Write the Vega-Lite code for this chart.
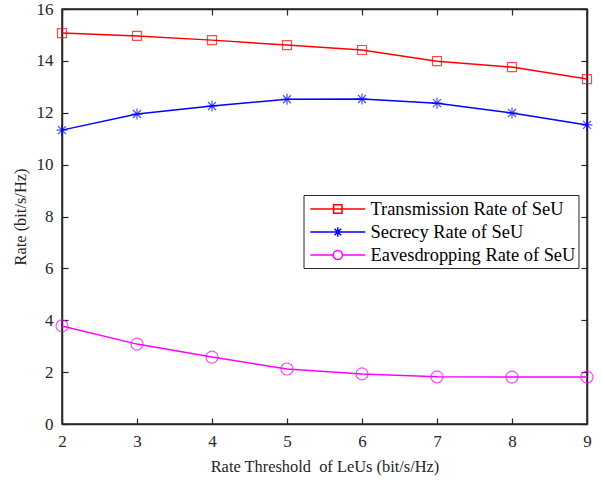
{
  "$schema": "https://vega.github.io/schema/vega-lite/v6.json",
  "width": 525,
  "height": 415,
  "autosize": {"type": "none"},
  "padding": {"left": 62, "top": 9, "right": 15, "bottom": 56},
  "background": "white",
  "config": {
    "font": "Liberation Serif",
    "view": {"stroke": "#262626", "strokeWidth": 1.5},
    "axis": {
      "grid": false,
      "domainColor": "#262626",
      "domainWidth": 1.5,
      "tickColor": "#262626",
      "tickWidth": 1.2,
      "labelColor": "#262626",
      "titleColor": "#262626",
      "labelFont": "Liberation Serif",
      "titleFont": "Liberation Serif",
      "labelFontSize": 17,
      "titleFontSize": 16.4,
      "titleFontWeight": "normal",
      "labelFlush": false,
      "labelOverlap": false,
      "tickSize": -6
    },
    "legend": {
      "labelFont": "Liberation Serif",
      "labelFontSize": 18.4,
      "labelColor": "#000000",
      "labelLimit": 400,
      "strokeColor": "#262626",
      "fillColor": "white",
      "padding": 3,
      "rowPadding": 2,
      "symbolSize": 400,
      "symbolStrokeWidth": 1.5,
      "symbolOpacity": 1,
      "labelOffset": 42
    }
  },
  "data": {
    "values": [
      {"threshold": 2, "series": "Transmission Rate of SeU", "rate": 15.07},
      {"threshold": 3, "series": "Transmission Rate of SeU", "rate": 14.96},
      {"threshold": 4, "series": "Transmission Rate of SeU", "rate": 14.8},
      {"threshold": 5, "series": "Transmission Rate of SeU", "rate": 14.61},
      {"threshold": 6, "series": "Transmission Rate of SeU", "rate": 14.42},
      {"threshold": 7, "series": "Transmission Rate of SeU", "rate": 13.99},
      {"threshold": 8, "series": "Transmission Rate of SeU", "rate": 13.76},
      {"threshold": 9, "series": "Transmission Rate of SeU", "rate": 13.3},
      {"threshold": 2, "series": "Secrecy Rate of SeU", "rate": 11.33},
      {"threshold": 3, "series": "Secrecy Rate of SeU", "rate": 11.95},
      {"threshold": 4, "series": "Secrecy Rate of SeU", "rate": 12.26},
      {"threshold": 5, "series": "Secrecy Rate of SeU", "rate": 12.52},
      {"threshold": 6, "series": "Secrecy Rate of SeU", "rate": 12.53},
      {"threshold": 7, "series": "Secrecy Rate of SeU", "rate": 12.37},
      {"threshold": 8, "series": "Secrecy Rate of SeU", "rate": 11.99},
      {"threshold": 9, "series": "Secrecy Rate of SeU", "rate": 11.53},
      {"threshold": 2, "series": "Eavesdropping Rate of SeU", "rate": 3.78},
      {"threshold": 3, "series": "Eavesdropping Rate of SeU", "rate": 3.08},
      {"threshold": 4, "series": "Eavesdropping Rate of SeU", "rate": 2.58},
      {"threshold": 5, "series": "Eavesdropping Rate of SeU", "rate": 2.12},
      {"threshold": 6, "series": "Eavesdropping Rate of SeU", "rate": 1.93},
      {"threshold": 7, "series": "Eavesdropping Rate of SeU", "rate": 1.82},
      {"threshold": 8, "series": "Eavesdropping Rate of SeU", "rate": 1.81},
      {"threshold": 9, "series": "Eavesdropping Rate of SeU", "rate": 1.81}
    ]
  },
  "layer": [
    {
      "mark": {"type": "line", "strokeWidth": 1.5},
      "encoding": {
        "x": {
          "field": "threshold", "type": "quantitative",
          "scale": {"domain": [2, 9], "nice": false, "zero": false},
          "axis": {"values": [2, 3, 4, 5, 6, 7, 8, 9], "title": "Rate Threshold\u00a0 of LeUs (bit/s/Hz)", "labelPadding": 15, "titlePadding": 9}
        },
        "y": {
          "field": "rate", "type": "quantitative",
          "scale": {"domain": [0, 16], "nice": false},
          "axis": {"values": [0, 2, 4, 6, 8, 10, 12, 14, 16], "title": "Rate (bit/s/Hz)", "labelPadding": 15, "titlePadding": 8}
        },
        "color": {
          "field": "series", "type": "nominal",
          "scale": {
            "domain": ["Transmission Rate of SeU", "Secrecy Rate of SeU", "Eavesdropping Rate of SeU"],
            "range": ["#ff0000", "#0000ff", "#ff00ff"]
          },
          "legend": {"title": null, "orient": "none", "legendX": 241.5, "legendY": 186}
        }
      }
    },
    {
      "transform": [{"filter": "datum.series === 'Transmission Rate of SeU'"}],
      "mark": {"type": "point", "filled": false, "size": 400, "strokeWidth": 1.2, "shape": "M-0.45,-0.45H0.45V0.45H-0.45Z"},
      "encoding": {
        "x": {
          "field": "threshold", "type": "quantitative",
          "axis": {"orient": "top", "values": [2, 3, 4, 5, 6, 7, 8, 9], "labels": false, "title": null}
        },
        "y": {
          "field": "rate", "type": "quantitative",
          "axis": {"orient": "right", "values": [0, 2, 4, 6, 8, 10, 12, 14, 16], "labels": false, "title": null}
        },
        "color": {"field": "series", "type": "nominal"}
      }
    },
    {
      "transform": [{"filter": "datum.series === 'Secrecy Rate of SeU'"}],
      "mark": {"type": "point", "filled": false, "size": 400, "strokeWidth": 1.2, "shape": "M-0.55,0H0.55M0,-0.55V0.55M-0.4,-0.4L0.4,0.4M-0.4,0.4L0.4,-0.4"},
      "encoding": {
        "x": {"field": "threshold", "type": "quantitative", "axis": null},
        "y": {"field": "rate", "type": "quantitative", "axis": null},
        "color": {"field": "series", "type": "nominal"}
      }
    },
    {
      "transform": [{"filter": "datum.series === 'Eavesdropping Rate of SeU'"}],
      "mark": {"type": "point", "filled": false, "size": 400, "strokeWidth": 1.2, "shape": "M0.6,0A0.6,0.6 0 1,1 -0.6,0A0.6,0.6 0 1,1 0.6,0"},
      "encoding": {
        "x": {"field": "threshold", "type": "quantitative", "axis": null},
        "y": {"field": "rate", "type": "quantitative", "axis": null},
        "color": {"field": "series", "type": "nominal"}
      }
    },
    {
      "transform": [{"filter": "false"}],
      "mark": {"type": "point", "filled": false, "strokeWidth": 1.5},
      "encoding": {
        "color": {"field": "series", "type": "nominal"},
        "shape": {
          "field": "series", "type": "nominal",
          "scale": {
            "domain": ["Transmission Rate of SeU", "Secrecy Rate of SeU", "Eavesdropping Rate of SeU"],
            "range": [
              "M-0.72,0H4.78M1.61,-0.42H2.45V0.42H1.61Z",
              "M-0.72,0H4.78M2.03,-0.47V0.47M1.7,-0.33L2.36,0.33M1.7,0.33L2.36,-0.33",
              "M-0.72,0H1.57M2.49,0H4.78M2.49,0A0.46,0.46 0 1,1 1.57,0A0.46,0.46 0 1,1 2.49,0"
            ]
          },
          "legend": {"title": null, "orient": "none", "legendX": 241.5, "legendY": 186}
        }
      }
    }
  ],
  "resolve": {"axis": {"x": "independent", "y": "independent"}}
}
